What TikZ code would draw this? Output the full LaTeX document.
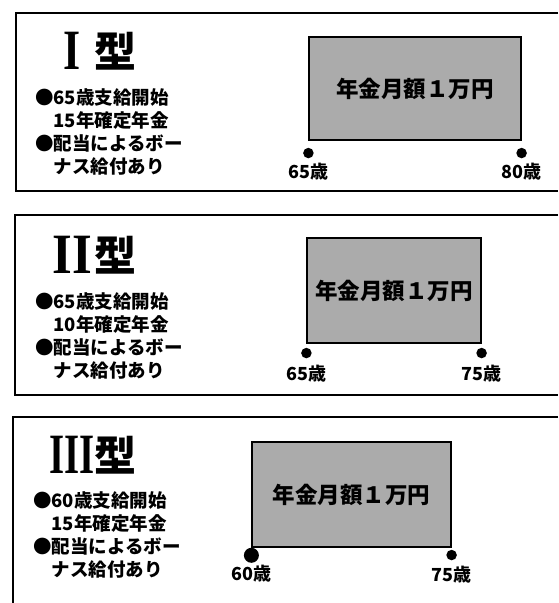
\documentclass[tikz,border=0pt]{standalone}
\usepackage{fontspec}
\setmainfont{Liberation Serif}
\newfontfamily\jp{Noto Sans CJK JP}
\usetikzlibrary{positioning}
\newcommand{\typenum}[2]{\scalebox{#1}[1]{\bfseries #2}}

\begin{document}
\begin{tikzpicture}[x=1pt, y=-1pt,
  frame/.style   = {line width=1.6pt},
  title/.style   = {inner sep=0pt, font=\jp\bfseries\fontsize{42}{42}\selectfont},
  numeral/.style = {inner sep=0pt, font=\fontsize{57}{57}\selectfont},
  info/.style    = {inner sep=0pt, align=left, anchor=north west},
  pension/.style = {draw, line width=1.2pt, fill=black!33, inner sep=0pt,
                    font=\jp\bfseries\fontsize{22.5}{22.5}\selectfont},
  dot/.style     = {circle, fill=black, inner sep=0pt, minimum size=10.5pt},
  age/.style     = {inner sep=0pt, font=\jp\bfseries\fontsize{18}{18}\selectfont},
  node distance=4pt]

\useasboundingbox (0,0) rectangle (558,603);

% the three frames, open to the right
\draw[frame] (558,13) -- (16,13) -- (16,191) -- (558,191);
\draw[frame] (558,215) -- (15,215) -- (15,395) -- (558,395);
\draw[frame] (558,417) -- (13,417) -- (13,603);

% type I
\node[title, anchor=east] (type1) at (137,51) {型};
\node[numeral, left=14pt of type1] (num1) {\typenum{0.77}{I}};
\node[info, font=\jp\bfseries\fontsize{18.5}{23.3}\selectfont] (info1) at (35,88)
  {●65歳支給開始\\\hphantom{●}15年確定年金\\●配当によるボー\\\hphantom{●}ナス給付あり};
\node[pension, minimum width=212pt, minimum height=103pt] (box1) at (415,88.5) {年金月額１万円};
\node[dot, below=7pt of box1.south west] (start1) {};
\node[dot, below=7pt of box1.south east] (end1) {};
\node[age, below=of start1] (age1s) {65歳};
\node[age, below=of end1] (age1e) {80歳};

% type II
\node[title, anchor=east] (type2) at (137,255) {型};
\node[numeral, left=2pt of type2] (num2) {\typenum{0.89}{II}};
\node[info, font=\jp\bfseries\fontsize{18.5}{23.3}\selectfont] (info2) at (35,292)
  {●65歳支給開始\\\hphantom{●}10年確定年金\\●配当によるボー\\\hphantom{●}ナス給付あり};
\node[pension, minimum width=174pt, minimum height=105pt] (box2) at (394,290.5) {年金月額１万円};
\node[dot, below=4pt of box2.south west] (start2) {};
\node[dot, below=4pt of box2.south east] (end2) {};
\node[age, below=6pt of start2] (age2s) {65歳};
\node[age, below=6pt of end2] (age2e) {75歳};

% type III
\node[title, anchor=east] (type3) at (137,455) {型};
\node[numeral, left=0pt of type3] (num3) {\typenum{0.68}{III}};
\node[info, font=\jp\bfseries\fontsize{18.5}{23}\selectfont] (info3) at (33,491)
  {●60歳支給開始\\\hphantom{●}15年確定年金\\●配当によるボー\\\hphantom{●}ナス給付あり};
\node[pension, minimum width=199pt, minimum height=105pt] (box3) at (351.5,494.5) {年金月額１万円};
\node[dot, minimum size=15pt, below=0pt of box3.south west] (start3) {};
\node[dot, below=2pt of box3.south east] (end3) {};
\node[age, below=2pt of start3] (age3s) {60歳};
\node[age, below=5pt of end3] (age3e) {75歳};

\end{tikzpicture}
\end{document}
